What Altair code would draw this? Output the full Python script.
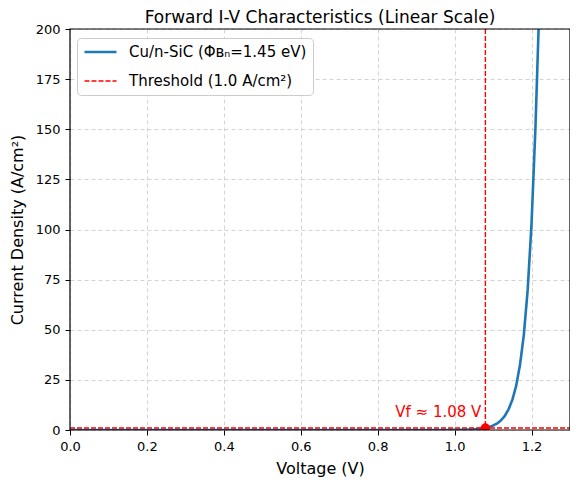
import altair as alt
import pandas as pd

# values
voltage = [0.0, 0.2, 0.4, 0.6, 0.8, 0.9, 0.95, 1.0, 1.02, 1.04, 1.06, 1.08, 1.09, 1.10, 1.11,
           1.12, 1.13, 1.14, 1.15, 1.16, 1.17, 1.18, 1.19, 1.20, 1.21, 1.22, 1.23]
current = [0.0, 0.0, 0.0, 0.0, 0.0, 0.005, 0.01, 0.05, 0.1, 0.2, 0.45, 1.0, 1.5, 2.2, 3.2,
           4.7, 6.9, 10.2, 15.0, 22.0, 32.5, 47.5, 70.0, 103.0, 150.0, 210.0, 310.0]
curve_label = 'Cu/n-SiC (Φʙₙ=1.45 eV)'
thresh_label = 'Threshold (1.0 A/cm²)'
threshold = 1.0
vf = 1.08
x_range = [0.0, 1.3]

df_curve = pd.DataFrame({'V': voltage, 'J': current, 'series': curve_label})
df_thresh = pd.DataFrame({'V': x_range, 'J': [threshold, threshold], 'series': thresh_label})
df_lines = pd.concat([df_curve, df_thresh], ignore_index=True)
df_vf = pd.DataFrame({'V': [vf], 'J': [threshold], 'label': ['Vf ≈ 1.08 V']})

FONT = 'DejaVu Sans'
W, H = 500, 401

x_scale = alt.Scale(domain=[0, 1.3], nice=False, zero=False)
y_scale = alt.Scale(domain=[0, 200], nice=False)

x_enc = alt.X('V:Q', scale=x_scale, title='Voltage (V)',
              axis=alt.Axis(values=[0, 0.2, 0.4, 0.6, 0.8, 1.0, 1.2], format='.1f'))
y_enc = alt.Y('J:Q', scale=y_scale, title='Current Density (A/cm²)',
              axis=alt.Axis(values=[0, 25, 50, 75, 100, 125, 150, 175, 200]))

lines = alt.Chart(df_lines).mark_line(clip=True).encode(
    x=x_enc,
    y=y_enc,
    color=alt.Color('series:N', scale=alt.Scale(domain=[curve_label, thresh_label],
                                                range=['#1f77b4', 'red']),
                    title=None,
                    legend=alt.Legend(orient='none', legendX=7, legendY=9,
                                      symbolType='stroke', symbolSize=1024, clipHeight=16,
                                      labelFontSize=15, labelFont=FONT, labelColor='black',
                                      labelLimit=400,
                                      rowPadding=13, padding=6, labelOffset=11,
                                      fillColor='white', strokeColor='#cccccc',
                                      cornerRadius=4, symbolStrokeWidth=2)),
    strokeDash=alt.StrokeDash('series:N', scale=alt.Scale(domain=[curve_label, thresh_label],
                                                          range=[[1, 0], [5, 2]]),
                              title=None, legend=None),
    strokeWidth=alt.StrokeWidth('series:N', scale=alt.Scale(domain=[curve_label, thresh_label],
                                                            range=[2.6, 1.4]),
                                title=None, legend=None),
    detail='series:N'
)

vline = alt.Chart(df_vf).mark_rule(color='red', strokeDash=[5, 2], strokeWidth=1.4).encode(
    x='V:Q'
)

dot = alt.Chart(df_vf).mark_point(filled=True, color='red', size=90, opacity=1, clip=True).encode(
    x='V:Q', y='J:Q'
)

label = alt.Chart(df_vf).mark_text(color='red', align='right', baseline='bottom',
                                   dx=-4, dy=-8, fontSize=15, font=FONT).encode(
    x='V:Q', y='J:Q', text='label:N'
)

# solid black frame drawn over the dashed grid
frame = alt.Chart(df_vf).mark_rect(fill=None, stroke='black', strokeWidth=1.2).encode(
    x=alt.value(0), x2=alt.value(W), y=alt.value(0), y2=alt.value(H)
)

chart = alt.layer(lines, vline, dot, label, frame).properties(
    width=W, height=H,
    title=alt.Title('Forward I-V Characteristics (Linear Scale)', fontSize=17,
                    fontWeight='normal', font=FONT, offset=-4, frame='group'),
    autosize=alt.AutoSizeParams(type='none'),
    padding={'left': 62, 'top': 21, 'right': 0, 'bottom': 47}
).configure_view(
    stroke=None
).configure_axis(
    labelFont=FONT, labelFontSize=13, labelColor='black', labelFlush=False,
    titleFont=FONT, titleFontSize=16, titleFontWeight='normal', titleColor='black',
    domain=False, tickColor='black', tickSize=5, labelPadding=5,
    grid=True, gridColor='#d3d3d3', gridDash=[4, 3], gridWidth=1
).configure_axisX(
    titlePadding=7
).configure_axisY(
    titlePadding=10
)

chart.save('out.html', embed_options={'renderer': 'svg', 'actions': False})
